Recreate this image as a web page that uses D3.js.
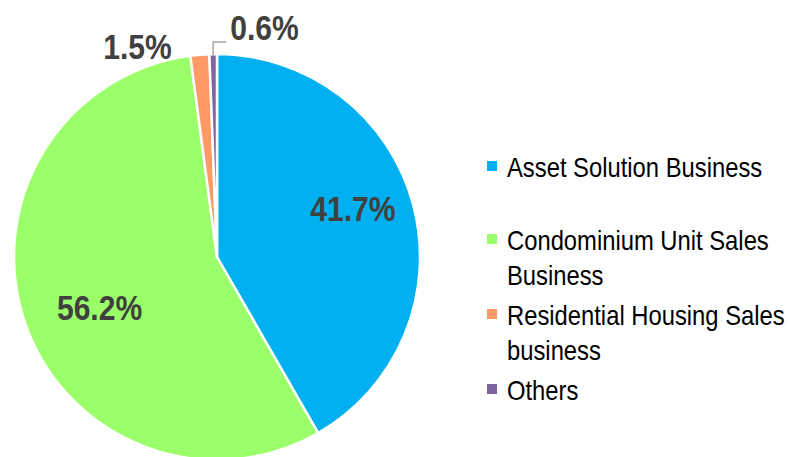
<!DOCTYPE html>
<html>
<head>
<meta charset="utf-8">
<script src="https://cdn.jsdelivr.net/npm/d3@7"></script>
<style>
  body { margin: 0; background: #fff; }
  svg { display: block; }
</style>
</head>
<body>
<div class="chart"></div>
<script>
let categories = ["Asset Solution Business", "Condominium Unit Sales Business", "Residential Housing Sales business", "Others"];
let legendLines = [["Asset Solution Business"], ["Condominium Unit Sales", "Business"], ["Residential Housing Sales", "business"], ["Others"]];
let values = [41.7, 56.2, 1.5, 0.6];
let colors = ["#00B0F0", "#9BFF69", "#FF9966", "#8064A2"];

let width = 790, height = 457;
let cx = 217, cy = 257, radius = 203;
// no narrow font installed, so squeeze Liberation Sans horizontally
let font = "'Liberation Sans', Arial, sans-serif";
let labelSquash = 0.86, legendSquash = 0.85;

let svg = d3.select(".chart").append("svg")
    .attr("width", width)
    .attr("height", height);

let pie = d3.pie().sort(null).value(d => d);
let arcs = pie(values);

let arc = d3.arc().innerRadius(0).outerRadius(radius);
let edgeArc = d3.arc().innerRadius(radius).outerRadius(radius);

let g = svg.append("g")
    .attr("transform", "translate(" + cx + "," + cy + ")");

g.selectAll("path")
  .data(arcs)
  .enter().append("path")
    .attr("d", arc)
    .attr("fill", (d, i) => colors[i])
    .attr("stroke", "#fff")
    .attr("stroke-width", 2.5)
    .attr("stroke-linejoin", "round");

function pctLabel(x, y, anchor, v) {
  g.append("text")
    .attr("transform", "translate(" + x + "," + y + ") scale(" + labelSquash + ",1)")
    .attr("text-anchor", anchor)
    .style("font-family", font)
    .style("font-weight", "bold")
    .style("font-size", "35px")
    .attr("fill", "#404040")
    .text(v.toFixed(1) + "%");
}

// labels inside the big slices (excel pulls them a bit toward the top)
arcs.filter(d => d.value > 10).forEach(function(d) {
  let a = (d.startAngle + d.endAngle) / 2 - 0.08;
  let r = radius * (d.index == 0 ? 0.71 : 0.63);
  pctLabel(Math.sin(a) * r, -Math.cos(a) * r + 12.5, "middle", d.value);
});

// 1.5% label, left of the slice
let orange = edgeArc.centroid(arcs[2]);
pctLabel(orange[0] - 28, -radius + 5, "end", values[2]);

// 0.6% label with leader line
let purple = edgeArc.centroid(arcs[3]);
g.append("path")
    .attr("d", "M" + purple[0] + "," + (purple[1] + 1) + "V" + (purple[1] - 12) + "H" + (purple[0] + 13))
    .attr("fill", "none")
    .attr("stroke", "#A6A6A6")
    .attr("stroke-width", 1.5);
pctLabel(purple[0] + 17, purple[1] - 14, "start", values[3]);

// legend
let legendY = [177, 250, 325, 400];
let legend = svg.append("g").attr("transform", "translate(487,0)");
legendLines.forEach(function(lines, i) {
  legend.append("rect")
    .attr("x", 0)
    .attr("y", legendY[i] - 16)
    .attr("width", 10)
    .attr("height", 10)
    .attr("fill", colors[i]);
  let t = legend.append("text")
    .attr("transform", "translate(20," + legendY[i] + ") scale(" + legendSquash + ",1)")
    .style("font-family", font)
    .style("font-size", "28px")
    .attr("fill", "#000");
  lines.forEach(function(line, j) {
    t.append("tspan")
      .attr("x", 0)
      .attr("dy", j == 0 ? 0 : 35)
      .text(line);
  });
});
</script>
</body>
</html>
